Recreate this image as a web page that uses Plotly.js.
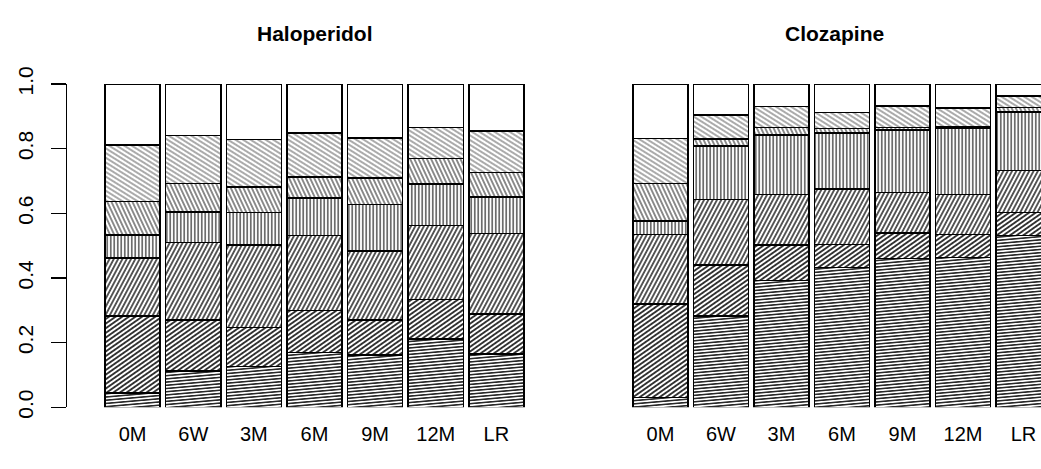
<!DOCTYPE html>
<html><head><meta charset="utf-8">
<script src="https://cdn.plot.ly/plotly-3.0.1.min.js"></script>
<style>html,body{margin:0;padding:0;background:#fff;}</style>
</head><body>
<div id="chart" style="width:1041px;height:469px"></div>
<script>
// ---- data (proportions per stacked level, bottom to top) ----
const categories = ['0M', '6W', '3M', '6M', '9M', '12M', 'LR'];
const panelTitles = ['Haloperidol', 'Clozapine'];
const yTickValues = [0, 0.2, 0.4, 0.6, 0.8, 1.0];
const yTickLabels = ['0.0', '0.2', '0.4', '0.6', '0.8', '1.0'];

const haloperidolLevel1 = [0.045, 0.112, 0.126, 0.170, 0.162, 0.212, 0.165];
const haloperidolLevel2 = [0.237, 0.158, 0.121, 0.129, 0.108, 0.122, 0.124];
const haloperidolLevel3 = [0.180, 0.239, 0.255, 0.232, 0.214, 0.229, 0.248];
const haloperidolLevel4 = [0.071, 0.095, 0.100, 0.117, 0.143, 0.128, 0.114];
const haloperidolLevel5 = [0.103, 0.088, 0.079, 0.064, 0.083, 0.078, 0.075];
const haloperidolLevel6 = [0.176, 0.148, 0.148, 0.136, 0.123, 0.097, 0.129];
const haloperidolLevel7 = [0.188, 0.160, 0.171, 0.152, 0.167, 0.134, 0.145];

const clozapineLevel1 = [0.031, 0.283, 0.392, 0.433, 0.461, 0.464, 0.531];
const clozapineLevel2 = [0.288, 0.157, 0.110, 0.070, 0.078, 0.070, 0.071];
const clozapineLevel3 = [0.215, 0.202, 0.157, 0.172, 0.126, 0.125, 0.130];
const clozapineLevel4 = [0.042, 0.167, 0.183, 0.173, 0.193, 0.205, 0.182];
const clozapineLevel5 = [0.117, 0.021, 0.023, 0.014, 0.008, 0.004, 0.013];
const clozapineLevel6 = [0.138, 0.074, 0.065, 0.050, 0.066, 0.058, 0.036];
const clozapineLevel7 = [0.169, 0.096, 0.070, 0.088, 0.068, 0.074, 0.037];

const haloperidolLevels = [haloperidolLevel1, haloperidolLevel2, haloperidolLevel3, haloperidolLevel4, haloperidolLevel5, haloperidolLevel6, haloperidolLevel7];
const clozapineLevels = [clozapineLevel1, clozapineLevel2, clozapineLevel3, clozapineLevel4, clozapineLevel5, clozapineLevel6, clozapineLevel7];

// ---- styles ----
const W = 1041, H = 469;
const hatchColors = ['rgb(0, 0, 0)', 'rgb(10, 10, 10)', 'rgb(50, 50, 50)', 'rgb(80, 80, 80)', 'rgb(115, 115, 115)', 'rgb(155, 155, 155)', null];
const hatchAngles = [5, 35, 62, 90, 115, 148, null];
const hatchSizes = [3.2, 3.8, 3.8, 3.5, 3.8, 4.0, 0];
const FONT = 'Liberation Sans, Arial, Helvetica, sans-serif';

const xPos = categories.map((c, i) => i);
const traces = [];
function addPanel(levels, xa, ya) {
  levels.forEach((vals, k) => {
    const marker = {color: '#ffffff', line: {color: '#000000', width: 1.5}};
    if (hatchColors[k]) {
      marker.pattern = {shape: '-', fgcolor: hatchColors[k], bgcolor: '#ffffff',
        size: hatchSizes[k], solidity: 0.42, fillmode: 'replace'};
    }
    traces.push({type: 'bar', x: xPos, y: vals, xaxis: xa, yaxis: ya,
      width: 0.909, marker: marker, hoverinfo: 'skip', showlegend: false});
  });
}
addPanel(haloperidolLevels, 'x', 'y');
addPanel(clozapineLevels, 'x2', 'y2');

const yDom = [(H - 407.3) / H, (H - 84) / H];
const xTickFont = {family: FONT, size: 20, color: '#000'};
const yTickFont = {family: FONT, size: 21, color: '#000'};
const xCommon = {showgrid: false, zeroline: false, showline: false, ticks: '',
  tickvals: xPos, ticktext: categories, tickfont: xTickFont, ticklabelstandoff: 13, fixedrange: true};

const layout = {
  width: W, height: H, margin: {l: 0, r: 0, t: 0, b: 0},
  paper_bgcolor: '#fff', plot_bgcolor: '#fff', barmode: 'stack', hovermode: false,
  xaxis: Object.assign({}, xCommon, {domain: [67 / W, 575 / W], range: [-1.083, 7.298], anchor: 'y'}),
  yaxis: {domain: yDom, range: [0, 1], tickvals: yTickValues, ticktext: yTickLabels,
    showgrid: false, zeroline: false, showline: true, linewidth: 1.2, linecolor: '#000',
    ticks: 'outside', ticklen: 15, tickwidth: 1.2, tickcolor: '#000', tickangle: -90,
    tickfont: yTickFont, ticklabelstandoff: 9, anchor: 'x', fixedrange: true},
  xaxis2: Object.assign({}, xCommon, {domain: [600 / W, 1], range: [-1.0, 6.289], anchor: 'y2'}),
  yaxis2: {domain: yDom, range: [0, 1], visible: false, anchor: 'x2', fixedrange: true},
  annotations: panelTitles.map((t, i) => ({text: '<b>' + t + '</b>', xref: 'paper', yref: 'paper',
    x: (i === 0 ? 314.5 : 834) / W, y: (H - 33) / H, xanchor: 'center', yanchor: 'middle',
    showarrow: false, font: {family: FONT, size: 21, color: '#000'}}))
};

Plotly.newPlot('chart', traces, layout, {displayModeBar: false, staticPlot: true}).then(gd => {
  // rotate each hatch pattern to its level's angle
  const groups = gd.querySelectorAll('.barlayer .trace');
  groups.forEach((g, idx) => {
    const k = idx % 7;
    if (hatchAngles[k] === null) return;
    g.querySelectorAll('path').forEach(p => {
      const f = (p.getAttribute('style') || '') + ' ' + (p.getAttribute('fill') || '');
      const m = f.match(/url\(['"]?#([^'")]+)['"]?\)/);
      if (m) {
        const pat = document.getElementById(m[1]);
        if (pat) pat.setAttribute('patternTransform', 'rotate(' + (-hatchAngles[k]) + ')');
      }
    });
  });
});
</script>
</body></html>
